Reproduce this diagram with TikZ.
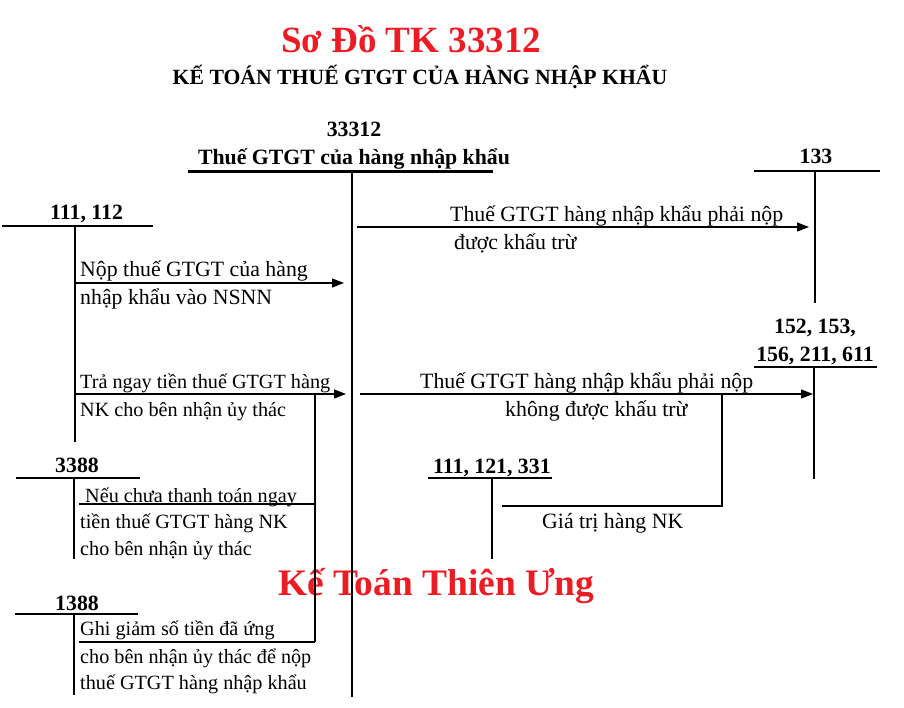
\documentclass[tikz,border=0pt]{standalone}
\usepackage{fontspec}
\setmainfont{Liberation Serif}
\usetikzlibrary{arrows.meta}
\definecolor{wmred}{RGB}{237,28,36}
\begin{document}
\begin{tikzpicture}[x=1pt,y=-1pt,
  txt/.style={anchor=base west, inner sep=0pt, font=\fontsize{21.8}{28}\selectfont},
  txs/.style={anchor=base west, inner sep=0pt, font=\fontsize{20.2}{28}\selectfont},
  lbl/.style={anchor=base, inner sep=0pt, font=\fontsize{21.8}{28}\selectfont\bfseries},
  redtitle/.style={inner sep=0pt, text=wmred, font=\fontsize{37}{44}\selectfont\bfseries},
  ln/.style={line width=1.3pt},
  arr/.style={line width=1.3pt,-{Triangle[length=12pt,width=9pt]}}]
\useasboundingbox (0,0) rectangle (904,708);
% titles
\node[redtitle, anchor=base] (title) at (411,53) {Sơ Đồ TK 33312};
\node[anchor=base, inner sep=0pt, font=\fontsize{21.7}{26}\selectfont\bfseries] (sub) at (420,85) {KẾ TOÁN THUẾ GTGT CỦA HÀNG NHẬP KHẨU};
% watermark
\node[redtitle, anchor=base west, font=\fontsize{37.4}{44}\selectfont\bfseries] (wm) at (278,595) {Kế Toán Thiên Ưng};
% main account 33312
\node[lbl] (m1) at (354,137) {33312};
\node[lbl] (m2) at (354,165) {Thuế GTGT của hàng nhập khẩu};
\coordinate (mL) at (188,172);
\coordinate (mR) at (493,172);
\coordinate (mT) at (352,172);
\coordinate (mB) at (352,697);
\draw[line width=3pt] (mL) -- (mR);
\draw[line width=2pt] (mT) -- (mB);
% account 111, 112
\node[lbl, anchor=base west] (a1) at (50,220) {111, 112};
\coordinate (a1L) at (2,226);
\coordinate (a1R) at (153,226);
\coordinate (a1T) at (75,226);
\coordinate (a1B) at (75,442);
\draw[ln] (a1L) -- (a1R);
\draw[ln] (a1T) -- (a1B);
\coordinate (r1s) at (75,283);
\coordinate (r1e) at (344,283);
\draw[arr] (r1s) -- (r1e);
\node[txt] (t1a) at (80,277) {Nộp thuế GTGT của hàng};
\node[txt] (t1b) at (80,305) {nhập khẩu vào NSNN};
\coordinate (r2s) at (75,394);
\coordinate (r2e) at (346,394);
\draw[arr] (r2s) -- (r2e);
\node[txs] (t2a) at (80,388) {Trả ngay tiền thuế GTGT hàng};
\node[txs] (t2b) at (80,416) {NK cho bên nhận ủy thác};
\coordinate (vT) at (315,394);
\coordinate (vB) at (315,642);
\draw[ln] (vT) -- (vB);
% account 3388
\node[lbl, anchor=base west] (a2) at (55,472) {3388};
\coordinate (a2L) at (16,478);
\coordinate (a2R) at (140,478);
\coordinate (a2T) at (74,478);
\coordinate (a2B) at (74,559);
\draw[ln] (a2L) -- (a2R);
\draw[ln] (a2T) -- (a2B);
\coordinate (h2s) at (79,504);
\coordinate (h2e) at (315,504);
\draw[ln] (h2s) -- (h2e);
\node[txs] (t3a) at (85,502) {Nếu chưa thanh toán ngay};
\node[txs] (t3b) at (80,528) {tiền thuế GTGT hàng NK};
\node[txs] (t3c) at (80,555) {cho bên nhận ủy thác};
% account 1388
\node[lbl, anchor=base west] (a3) at (55,610) {1388};
\coordinate (a3L) at (15,614);
\coordinate (a3R) at (138,614);
\coordinate (a3T) at (74,614);
\coordinate (a3B) at (74,695);
\draw[ln] (a3L) -- (a3R);
\draw[ln] (a3T) -- (a3B);
\coordinate (h3s) at (79,642);
\draw[ln] (h3s) -- (vB);
\node[txs] (t4a) at (80,635) {Ghi giảm số tiền đã ứng};
\node[txs] (t4b) at (80,663) {cho bên nhận ủy thác để nộp};
\node[txs] (t4c) at (80,689) {thuế GTGT hàng nhập khẩu};
% account 133
\node[lbl] (a4) at (816,164) {133};
\coordinate (a4L) at (754,171);
\coordinate (a4R) at (880,171);
\coordinate (a4T) at (815,171);
\coordinate (a4B) at (815,303);
\draw[ln] (a4L) -- (a4R);
\draw[ln] (a4T) -- (a4B);
\coordinate (r3s) at (357,227);
\coordinate (r3e) at (809,227);
\draw[arr] (r3s) -- (r3e);
\node[txt] (t5a) at (450,222) {Thuế GTGT hàng nhập khẩu phải nộp};
\node[txt] (t5b) at (454,250) {được khấu trừ};
% account 152...
\node[lbl] (a5a) at (815,333) {152, 153,};
\node[lbl] (a5b) at (815,361) {156, 211, 611};
\coordinate (a5L) at (754,367);
\coordinate (a5R) at (877,367);
\coordinate (a5T) at (814,367);
\coordinate (a5B) at (814,479);
\draw[ln] (a5L) -- (a5R);
\draw[ln] (a5T) -- (a5B);
\coordinate (r4s) at (360,394);
\coordinate (r4e) at (813,394);
\draw[arr] (r4s) -- (r4e);
\node[txt] (t6a) at (420,388) {Thuế GTGT hàng nhập khẩu phải nộp};
\node[txt] (t6b) at (505,416) {không được khấu trừ};
% account 111, 121, 331
\coordinate (g1) at (722,394);
\coordinate (g2) at (722,506);
\coordinate (g3) at (502,506);
\draw[ln] (g1) -- (g2) -- (g3);
\node[txt] (t7) at (542,528) {Giá trị hàng NK};
\node[lbl, anchor=base west] (a6) at (433,473) {111, 121, 331};
\coordinate (a6L) at (428,478);
\coordinate (a6R) at (552,478);
\coordinate (a6T) at (492,478);
\coordinate (a6B) at (492,559);
\draw[ln] (a6L) -- (a6R);
\draw[ln] (a6T) -- (a6B);
\end{tikzpicture}
\end{document}
